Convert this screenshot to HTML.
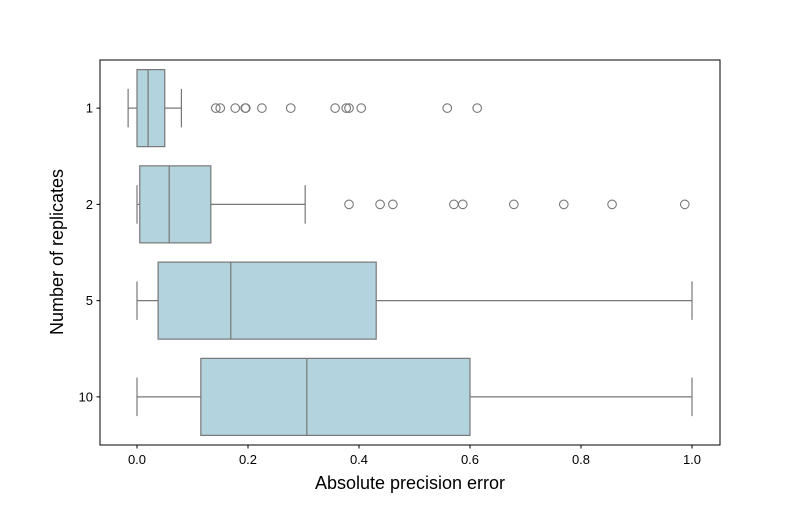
<!DOCTYPE html>
<html><head><meta charset="utf-8"><style>
body{margin:0;background:#fff;}
svg text{font-family:"Liberation Sans","DejaVu Sans",sans-serif;}
</style></head><body>
<svg id="chart" width="800" height="500" xmlns="http://www.w3.org/2000/svg">
<rect width="800" height="500" fill="#fff"/>
<g id="plot"></g>
<rect x="100" y="60" width="620" height="385" fill="none" stroke="#000" stroke-width="1"/>
<g id="xticks"></g><g id="yticks"></g>
<text x="410" y="489" font-size="18" text-anchor="middle">Absolute precision error</text>
<text transform="translate(63,252) rotate(-90)" font-size="18" text-anchor="middle">Number of replicates</text>
</svg>
<script>
const categories = ["1","2","5","10"];
const whiskerLow = [-0.016, 0, 0, 0];
const q1 = [0, 0.005, 0.038, 0.115];
const medians = [0.02, 0.058, 0.169, 0.306];
const q3 = [0.05, 0.133, 0.431, 0.6];
const whiskerHigh = [0.08, 0.303, 1.0, 1.0];
const outliers = [
 [0.142,0.150,0.177,0.195,0.196,0.225,0.277,0.357,0.377,0.382,0.404,0.559,0.613],
 [0.382,0.438,0.461,0.571,0.587,0.679,0.769,0.856,0.987],
 [],[]
];
const xTicks = [0,0.2,0.4,0.6,0.8,1.0];
const xTickLabels = ["0.0","0.2","0.4","0.6","0.8","1.0"];

const NS="http://www.w3.org/2000/svg";
const xs = v => 137 + v*555;
const ys = i => 60 + 385*(i+0.5)/categories.length;
const bw = 385/categories.length*0.8;
function mk(tag, attrs, parent){const e=document.createElementNS(NS,tag);for(const k in attrs)e.setAttribute(k,attrs[k]);parent.appendChild(e);return e;}
const plot=document.getElementById('plot'), xt=document.getElementById('xticks'), yt=document.getElementById('yticks');
const st="#777";
categories.forEach((c,i)=>{
  const y=ys(i);
  let e;
  e=mk('line',{x1:xs(whiskerLow[i]),x2:xs(q1[i]),y1:y,y2:y,stroke:st,'stroke-width':1.2},plot);
  
  
  e=mk('line',{x1:xs(q3[i]),x2:xs(whiskerHigh[i]),y1:y,y2:y,stroke:st,'stroke-width':1.2},plot);
  
  
  e=mk('line',{x1:xs(whiskerLow[i]),x2:xs(whiskerLow[i]),y1:y-bw/4,y2:y+bw/4,stroke:st,'stroke-width':1.2},plot);
  
  
  e=mk('line',{x1:xs(whiskerHigh[i]),x2:xs(whiskerHigh[i]),y1:y-bw/4,y2:y+bw/4,stroke:st,'stroke-width':1.2},plot);
  
  
  e=mk('rect',{x:xs(q1[i]),y:y-bw/2,width:xs(q3[i])-xs(q1[i]),height:bw,fill:"#b3d4df",stroke:st,'stroke-width':1.2},plot);
  
  
  e=mk('line',{x1:xs(medians[i]),x2:xs(medians[i]),y1:y-bw/2,y2:y+bw/2,stroke:st,'stroke-width':1.2},plot);
  
  
  outliers[i].forEach(v=>{
    const o=mk('circle',{cx:xs(v),cy:y,r:4.3,fill:"none",stroke:st,'stroke-width':1.1},plot);
    
    
  });
  e=mk('line',{x1:96.5,x2:100,y1:y,y2:y,stroke:"#000"},yt);
  
  
  const t=mk('text',{x:93,y:y+4.5,'font-size':13,'text-anchor':'end'},yt);
  t.textContent=c;
  
  
});
xTicks.forEach((v,j)=>{
  let e=mk('line',{x1:xs(v),x2:xs(v),y1:445,y2:448.5,stroke:"#000"},xt);
  
  
  const t=mk('text',{x:xs(v),y:464,'font-size':13,'text-anchor':'middle'},xt);
  t.textContent=xTickLabels[j];
  
  
});
</script>
</body></html>
